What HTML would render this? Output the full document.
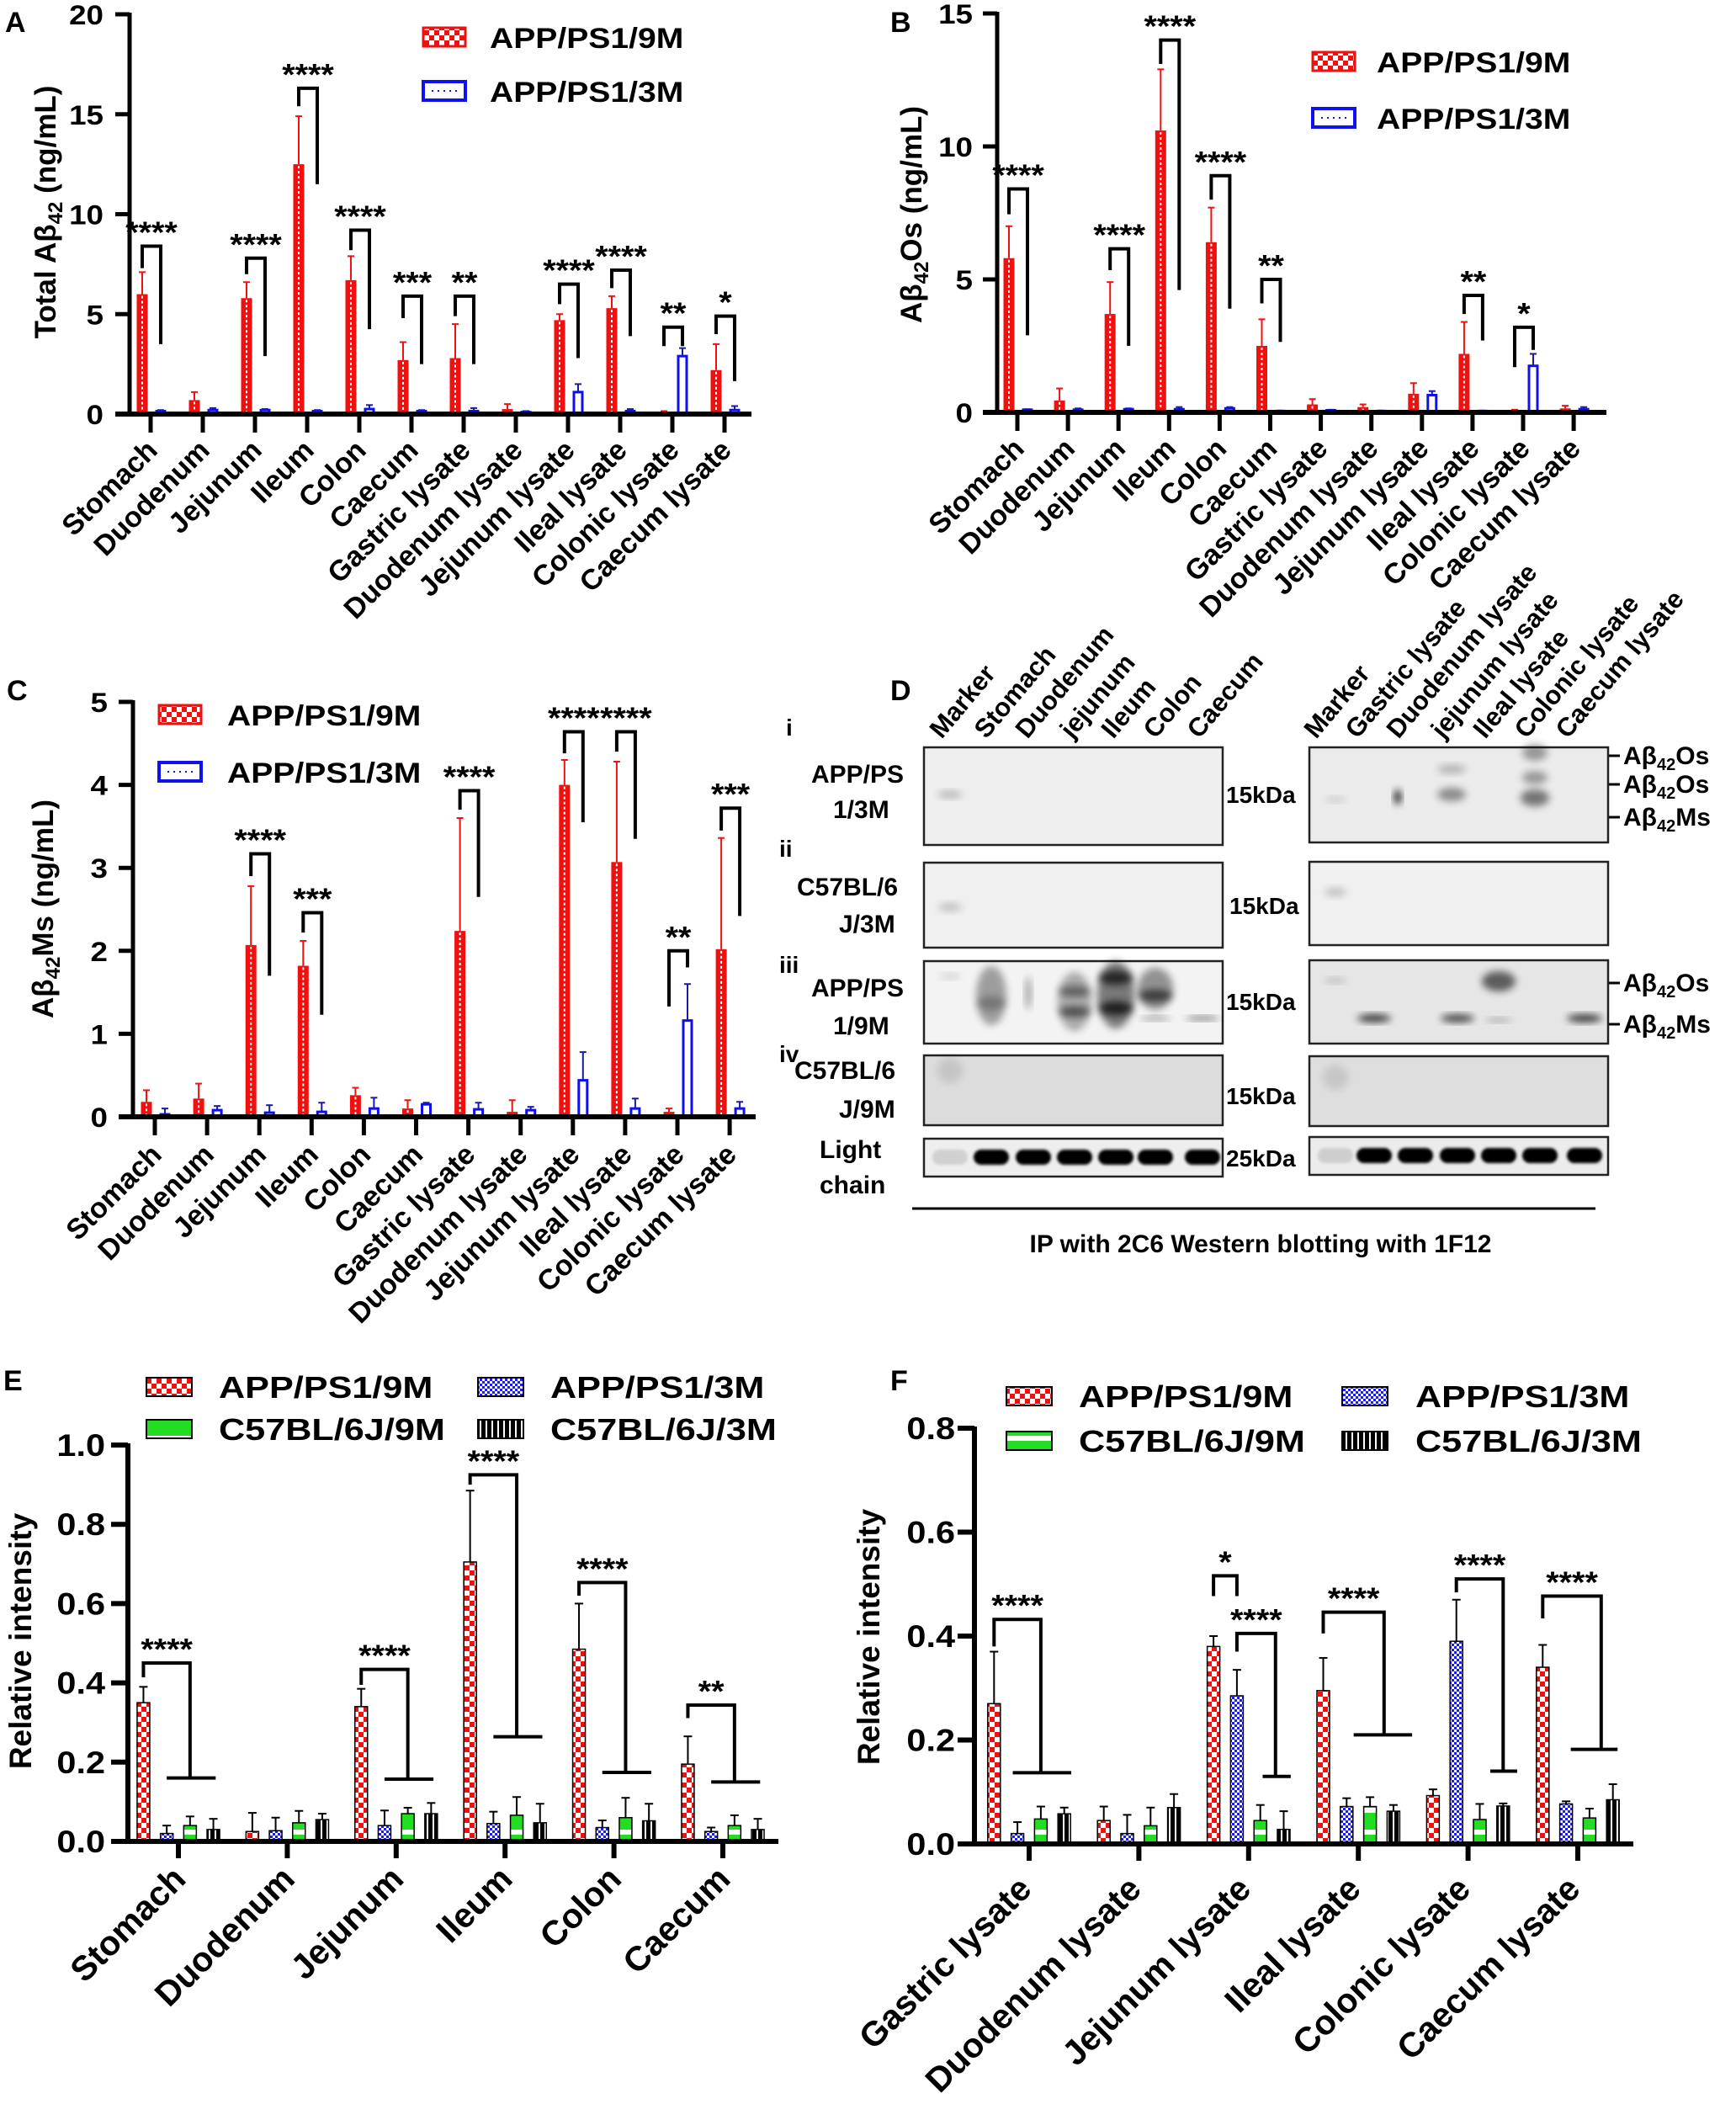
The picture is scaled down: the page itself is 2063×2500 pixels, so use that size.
<!DOCTYPE html>
<html><head><meta charset="utf-8">
<style>
html,body{margin:0;padding:0;background:#fff;}
svg{display:block;font-family:"Liberation Sans",Arial,sans-serif;font-weight:bold;}
</style></head>
<body>
<svg id="fig" xmlns="http://www.w3.org/2000/svg" width="2063" height="2500" viewBox="0 0 2063 2500">
<defs>
  <pattern id="pRed" width="12" height="12" patternUnits="userSpaceOnUse"><rect width="12" height="12" fill="#fff"/><rect width="6" height="6" fill="#f01010"/><rect x="6" y="6" width="6" height="6" fill="#f01010"/></pattern>
  <pattern id="pBlue" width="6" height="6" patternUnits="userSpaceOnUse"><rect width="6" height="6" fill="#fff"/><rect width="3" height="3" fill="#1a1aff"/><rect x="3" y="3" width="3" height="3" fill="#1a1aff"/></pattern>
  <pattern id="pGreen" width="14" height="26" patternUnits="userSpaceOnUse"><rect width="14" height="26" fill="#22dd22"/><rect y="16" width="14" height="6" fill="#fff"/></pattern>
  <pattern id="pBlack" width="7" height="10" patternUnits="userSpaceOnUse"><rect width="7" height="10" fill="#000"/><rect x="3" width="2" height="10" fill="#fff"/></pattern>
  <filter id="blur" x="-50%" y="-50%" width="200%" height="200%"><feGaussianBlur stdDeviation="4.5"/></filter>
  <filter id="blur2" x="-50%" y="-50%" width="200%" height="200%"><feGaussianBlur stdDeviation="1.5"/></filter>
</defs>

<text x="6" y="38" font-size="34">A</text>
<text x="1058" y="38" font-size="34">B</text>
<text x="8" y="832" font-size="34">C</text>
<text x="1058" y="832" font-size="34">D</text>
<text x="4" y="1652" font-size="34">E</text>
<text x="1058" y="1652" font-size="34">F</text>

<text transform="translate(66,252) rotate(-90)" text-anchor="middle" font-size="35">Total Aβ<tspan font-size="24" dy="8">42</tspan><tspan dy="-8"> (ng/mL)</tspan></text>
<text transform="translate(1095,255) rotate(-90)" text-anchor="middle" font-size="35">Aβ<tspan font-size="24" dy="8">42</tspan><tspan dy="-8">Os  (ng/mL)</tspan></text>
<text transform="translate(63,1080) rotate(-90)" text-anchor="middle" font-size="35">Aβ<tspan font-size="24" dy="8">42</tspan><tspan dy="-8">Ms (ng/mL)</tspan></text>
<text transform="translate(37,1950) rotate(-90)" text-anchor="middle" font-size="37">Relative intensity</text>
<text transform="translate(1045,1945) rotate(-90)" text-anchor="middle" font-size="37">Relative intensity</text>

<g font-size="30">
  <text x="934" y="874" font-size="28">i</text>
  <text x="964" y="930">APP/PS</text>
  <text x="990" y="972">1/3M</text>
  <text x="926" y="1018" font-size="28">ii</text>
  <text x="947" y="1064">C57BL/6</text>
  <text x="997" y="1108">J/3M</text>
  <text x="926" y="1156" font-size="28">iii</text>
  <text x="964" y="1184">APP/PS</text>
  <text x="990" y="1229">1/9M</text>
  <text x="926" y="1262" font-size="28">iv</text>
  <text x="944" y="1282">C57BL/6</text>
  <text x="997" y="1328">J/9M</text>
  <text x="974" y="1376">Light</text>
  <text x="974" y="1418">chain</text>
</g>
<g font-size="28">
  <text x="1457" y="954">15kDa</text>
  <text x="1461" y="1086">15kDa</text>
  <text x="1457" y="1200">15kDa</text>
  <text x="1457" y="1312">15kDa</text>
  <text x="1457" y="1386">25kDa</text>
</g>
<g font-size="30" stroke-width="3">
  <line x1="1911" y1="898" x2="1925" y2="898" stroke="#000"/><text x="1929" y="908">Aβ<tspan font-size="20" dy="7">42</tspan><tspan dy="-7">Os</tspan></text>
  <line x1="1911" y1="932" x2="1925" y2="932" stroke="#000"/><text x="1929" y="942">Aβ<tspan font-size="20" dy="7">42</tspan><tspan dy="-7">Os</tspan></text>
  <line x1="1911" y1="971" x2="1925" y2="971" stroke="#000"/><text x="1929" y="981">Aβ<tspan font-size="20" dy="7">42</tspan><tspan dy="-7">Ms</tspan></text>
  <line x1="1911" y1="1168" x2="1925" y2="1168" stroke="#000"/><text x="1929" y="1178">Aβ<tspan font-size="20" dy="7">42</tspan><tspan dy="-7">Os</tspan></text>
  <line x1="1911" y1="1217" x2="1925" y2="1217" stroke="#000"/><text x="1929" y="1227">Aβ<tspan font-size="20" dy="7">42</tspan><tspan dy="-7">Ms</tspan></text>
</g>
<line x1="1084" y1="1436" x2="1896" y2="1436" stroke="#000" stroke-width="3"/>
<text x="1498" y="1488" text-anchor="middle" font-size="30">IP with 2C6 Western blotting with 1F12</text>
</svg>

<script>
const catsAB = ["Stomach","Duodenum","Jejunum","Ileum","Colon","Caecum","Gastric lysate","Duodenum lysate","Jejunum lysate","Ileal lysate","Colonic lysate","Caecum lysate"];
const aRed = [6.0,0.7,5.8,12.5,6.7,2.7,2.8,0.25,4.7,5.3,0.1,2.2];
const aRedErr = [7.1,1.1,6.6,14.9,7.9,3.6,4.5,0.5,5.0,5.9,0.15,3.5];
const aBlue = [0.15,0.2,0.2,0.15,0.25,0.15,0.15,0.1,1.1,0.15,2.9,0.2];
const aBlueErr = [0.2,0.3,0.25,0.2,0.45,0.2,0.3,0.15,1.5,0.25,3.3,0.4];
const aTicks = [0,5,10,15,20];
const aSig = [[0,8.4,7.3,3.5,"****"],[2,7.8,7.0,2.9,"****"],[3,16.3,15.4,11.5,"****"],[4,9.2,8.2,4.25,"****"],[5,5.9,4.8,2.5,"***"],[6,5.9,4.9,2.5,"**"],[8,6.5,5.5,2.8,"****"],[9,7.2,6.3,3.9,"****"],[10,4.35,3.4,3.4,"**"],[11,4.9,4.0,1.65,"*"]];

const bRed = [5.8,0.45,3.7,10.6,6.4,2.5,0.3,0.2,0.7,2.2,0.08,0.15];
const bRedErr = [7.0,0.9,4.9,12.9,7.7,3.5,0.5,0.3,1.1,3.4,0.1,0.25];
const bBlue = [0.1,0.1,0.12,0.12,0.15,0.05,0.08,0.05,0.65,0.05,1.75,0.12];
const bBlueErr = [0.12,0.15,0.15,0.2,0.2,0.07,0.1,0.07,0.8,0.07,2.2,0.2];
const bTicks = [0,5,10,15];
const bSig = [[0,8.4,7.45,2.9,"****"],[2,6.15,5.35,2.5,"****"],[3,14.0,13.1,4.6,"****"],[4,8.9,8.0,3.9,"****"],[5,5.0,4.1,2.65,"**"],[9,4.4,3.7,2.7,"**"],[10,3.2,1.7,2.35,"*"]];

const cRed = [0.18,0.22,2.07,1.82,0.26,0.1,2.24,0.06,4.0,3.07,0.06,2.02];
const cRedErr = [0.32,0.4,2.78,2.12,0.35,0.2,3.6,0.2,4.3,4.28,0.1,3.36];
const cBlue = [0.03,0.08,0.05,0.06,0.1,0.15,0.09,0.08,0.44,0.1,1.16,0.1];
const cBlueErr = [0.1,0.13,0.14,0.17,0.23,0.17,0.17,0.12,0.78,0.22,1.6,0.18];
const cTicks = [0,1,2,3,4,5];
const cSig = [[2,3.17,2.9,1.7,"****"],[3,2.46,2.22,1.23,"***"],[6,3.93,3.7,2.65,"****"],[8,4.64,4.38,3.55,"****"],[9,4.64,4.4,3.35,"****"],[10,2.0,1.33,1.8,"**"],[11,3.72,3.45,2.42,"***"]];

const catsE = ["Stomach","Duodenum","Jejunum","Ileum","Colon","Caecum"];
const eApp9 = [0.35,0.025,0.34,0.705,0.485,0.195];
const eApp9Err = [0.39,0.072,0.385,0.885,0.6,0.265];
const eApp3 = [0.02,0.027,0.04,0.045,0.035,0.025];
const eApp3Err = [0.04,0.06,0.078,0.075,0.053,0.035];
const eC9 = [0.04,0.047,0.07,0.066,0.06,0.04];
const eC9Err = [0.063,0.077,0.085,0.112,0.11,0.066];
const eC3 = [0.03,0.055,0.07,0.047,0.052,0.03];
const eC3Err = [0.057,0.07,0.097,0.095,0.095,0.057];
const eTicks = [0,0.2,0.4,0.6,0.8,1.0];
const eSig = [[0,0,2,1,3.1,0.45,0.414,0.16,"****"],[2,0,2,1,3.1,0.434,0.395,0.157,"****"],[3,0,2,1,3.1,0.925,0.9,0.264,"****"],[4,0,2,1,3.1,0.653,0.62,0.174,"****"],[5,0,2,1,3.1,0.344,0.311,0.15,"**"]];

const catsF = ["Gastric lysate","Duodenum lysate","Jejunum lysate","Ileal lysate","Colonic lysate","Caecum lysate"];
const fApp9 = [0.27,0.045,0.38,0.295,0.093,0.34];
const fApp9Err = [0.37,0.072,0.4,0.358,0.105,0.383];
const fApp3 = [0.02,0.02,0.285,0.072,0.39,0.077];
const fApp3Err = [0.042,0.056,0.335,0.088,0.47,0.082];
const fC9 = [0.048,0.035,0.045,0.072,0.047,0.05];
const fC9Err = [0.072,0.07,0.075,0.09,0.077,0.068];
const fC3 = [0.058,0.07,0.028,0.063,0.073,0.085];
const fC3Err = [0.07,0.096,0.063,0.075,0.078,0.115];
const fTicks = [0,0.2,0.4,0.6,0.8];
const fSig = [[0,0,2,0.8,3.3,0.432,0.38,0.137,"****"],[2,1,2.65,2.1,3.3,0.405,0.37,0.13,"****"],[3,0,2.6,1.3,3.8,0.446,0.405,0.21,"****"],[4,1,3,2.45,3.6,0.51,0.484,0.14,"****"],[5,0,2.5,1.2,3.2,0.477,0.434,0.182,"****"]];
const fPair = [[2,0,1,0.516,0.477,"*"]];

const NS = 'http://www.w3.org/2000/svg';
const svg = document.getElementById('fig');
function mk(tag, attrs, parent){
  const e = document.createElementNS(NS, tag);
  for (const k in attrs) e.setAttribute(k, attrs[k]);
  (parent || svg).appendChild(e);
  return e;
}
function tx(parent, x, y, s, size, anchor, sx, rot){
  const t = mk('text', {transform:'translate('+x+','+y+')'+(rot?' rotate('+rot+')':'')+(sx?' scale('+sx+',1)':''), 'font-size':size, 'text-anchor':anchor||'start'}, parent);
  t.textContent = s;
  return t;
}
function axisFn(v0, y0, vTop, yTop){ return v => y0 + (v - v0) * (yTop - y0) / (vTop - v0); }

function twoSeries(cfg){
  const g = mk('g', {});
  
  
  const Y = axisFn(0, cfg.y0, cfg.vmax, cfg.yTop);
  const X = i => cfg.x0 + i * cfg.step;
  cfg.cats.forEach((c, i) => {
    const xr = X(i) + cfg.offR, xb = X(i) + cfg.offB, bw = cfg.bw;
    const er = mk('line', {x1:xr, x2:xr, y1:Y(cfg.red[i]), y2:Y(cfg.redErr[i]), stroke:'#f01010', 'stroke-width':2}, g);
    
    
    mk('line', {x1:xr-4, x2:xr+4, y1:Y(cfg.redErr[i]), y2:Y(cfg.redErr[i]), stroke:'#f01010', 'stroke-width':2}, g);
    const r = mk('rect', {x:xr-bw/2, y:Y(cfg.red[i]), width:bw, height:Math.max(0, cfg.y0 - Y(cfg.red[i])), fill:'#f01010'}, g);
    
    
    if (cfg.y0 - Y(cfg.red[i]) > 6) mk('line', {x1:xr, x2:xr, y1:Y(cfg.red[i])+2, y2:cfg.y0, stroke:'#fff', 'stroke-width':2, 'stroke-dasharray':'3 3'}, g);
    const eb = mk('line', {x1:xb, x2:xb, y1:Y(cfg.blue[i]), y2:Y(cfg.blueErr[i]), stroke:'#1a1aa0', 'stroke-width':2}, g);
    
    
    mk('line', {x1:xb-4, x2:xb+4, y1:Y(cfg.blueErr[i]), y2:Y(cfg.blueErr[i]), stroke:'#1a1aa0', 'stroke-width':2}, g);
    const b = mk('rect', {x:xb-bw/2+1.5, y:Y(cfg.blue[i]), width:bw-3, height:Math.max(0, cfg.y0 - Y(cfg.blue[i])), fill:'#fff', stroke:'#1010ee', 'stroke-width':3}, g);
    
    
    mk('line', {x1:X(i), x2:X(i), y1:cfg.y0, y2:cfg.y0+22, stroke:'#000', 'stroke-width':5}, g);
    const cl = tx(g, X(i)+10, cfg.y0+cfg.labDy, c, 34, 'end', 0, -45);
    
    
  });
  const ya = mk('line', {x1:cfg.axisX, x2:cfg.axisX, y1:cfg.yTop-2, y2:cfg.y0+2, stroke:'#000', 'stroke-width':5}, g);
  
  
  const xa = mk('line', {x1:cfg.axisX-17, x2:cfg.xEnd, y1:cfg.y0, y2:cfg.y0, stroke:'#000', 'stroke-width':6}, g);
  
  
  cfg.ticks.forEach(t => {
    mk('line', {x1:cfg.axisX-17, x2:cfg.axisX, y1:Y(t), y2:Y(t), stroke:'#000', 'stroke-width':5}, g);
    const tl = tx(g, cfg.tickLabX, Y(t)+12, String(t), 32, 'end', 1.15);
    
    
  });
  cfg.sig.forEach(s => {
    const xl = X(s[0]) + cfg.offR, xr = X(s[0]) + cfg.offB;
    const p = mk('polyline', {points: xl+','+Y(s[2])+' '+xl+','+Y(s[1])+' '+xr+','+Y(s[1])+' '+xr+','+Y(s[3]), fill:'none', stroke:'#000', 'stroke-width':4}, g);
    
    
    const st = tx(g, (xl+xr)/2, Y(s[1])-4, s[4], 36, 'middle', 1.1);
    
    
  });
  const lg = mk('g', {}, g);
  
  
  const L = cfg.leg;
  mk('rect', {x:L.x, y:L.y1-11, width:50, height:22, fill:'url(#pRed)', stroke:'#f01010', 'stroke-width':3}, lg);
  tx(lg, L.tx, L.y1+13, 'APP/PS1/9M', 34, 'start', 1.15);
  mk('rect', {x:L.x, y:L.y2-11, width:50, height:22, fill:'#fff', stroke:'#1010ee', 'stroke-width':4}, lg);
  mk('line', {x1:L.x+10, x2:L.x+42, y1:L.y2, y2:L.y2, stroke:'#1010ee', 'stroke-width':2, 'stroke-dasharray':'2 5'}, lg);
  tx(lg, L.tx, L.y2+13, 'APP/PS1/3M', 34, 'start', 1.15);
}

twoSeries({name:'chart-a-total-abeta42', cats:catsAB, red:aRed, redErr:aRedErr, blue:aBlue, blueErr:aBlueErr, ticks:aTicks, sig:aSig,
  vmax:20, y0:492, yTop:17, axisX:154, x0:179, step:62, offR:-10, offB:12, bw:13, xEnd:893, tickLabX:123, labDy:45,
  leg:{x:503, tx:582, y1:44, y2:108}});
twoSeries({name:'chart-b-abeta42-oligomers', cats:catsAB, red:bRed, redErr:bRedErr, blue:bBlue, blueErr:bBlueErr, ticks:bTicks, sig:bSig,
  vmax:15, y0:490, yTop:16, axisX:1185, x0:1209, step:60.1, offR:-10, offB:12, bw:13, xEnd:1909, tickLabX:1156, labDy:45,
  leg:{x:1560, tx:1636, y1:73, y2:140}});
twoSeries({name:'chart-c-abeta42-monomers', cats:catsAB, red:cRed, redErr:cRedErr, blue:cBlue, blueErr:cBlueErr, ticks:cTicks, sig:cSig,
  vmax:5, y0:1327, yTop:834, axisX:158, x0:184, step:62.1, offR:-10, offB:12, bw:13, xEnd:898, tickLabX:128, labDy:47,
  leg:{x:189, tx:270, y1:849, y2:917}});

function fourSeries(cfg){
  const g = mk('g', {});
  
  
  const Y = axisFn(0, cfg.y0, cfg.vmax, cfg.yTop);
  const X = i => cfg.x0 + i * cfg.step;
  const BX = (i, k) => X(i) + (k - 1.5) * cfg.sp;
  const fills = ['url(#pRed)','url(#pBlue)','url(#pGreen)','url(#pBlack)'];
  const names = ['app-ps1-9m','app-ps1-3m','c57-9m','c57-3m'];
  cfg.cats.forEach((c, i) => {
    cfg.series.forEach((ser, k) => {
      const x = BX(i, k), v = ser[0][i], e = ser[1][i];
      mk('line', {x1:x, x2:x, y1:Y(v), y2:Y(e), stroke:'#000', 'stroke-width':2}, g);
      mk('line', {x1:x-5, x2:x+5, y1:Y(e), y2:Y(e), stroke:'#000', 'stroke-width':2}, g);
      const r = mk('rect', {x:x-cfg.bw/2, y:Y(v), width:cfg.bw, height:Math.max(0, cfg.y0 - Y(v)), fill:fills[k], stroke:'#000', 'stroke-width':1.5}, g);
      
      
    });
    mk('line', {x1:X(i), x2:X(i), y1:cfg.y0, y2:cfg.y0+20, stroke:'#000', 'stroke-width':6}, g);
    const cl = tx(g, X(i)+cfg.labDx, cfg.y0+cfg.labDy, c, 41, 'end', 0, -45);
    
    
  });
  const ya = mk('line', {x1:cfg.axisX, x2:cfg.axisX, y1:cfg.yTop-2, y2:cfg.y0+2, stroke:'#000', 'stroke-width':6}, g);
  
  
  const xa = mk('line', {x1:cfg.axisX-20, x2:cfg.xEnd, y1:cfg.y0, y2:cfg.y0, stroke:'#000', 'stroke-width':6}, g);
  
  
  cfg.ticks.forEach(t => {
    mk('line', {x1:cfg.axisX-20, x2:cfg.axisX, y1:Y(t), y2:Y(t), stroke:'#000', 'stroke-width':6}, g);
    const tl = tx(g, cfg.tickLabX, Y(t)+13, t.toFixed(1), 37, 'end', 1.12);
    
    
  });
  cfg.sig.forEach(s => {
    const xl = BX(s[0], s[1]), xv = BX(s[0], s[2]);
    const p = mk('polyline', {points: xl+','+Y(s[6])+' '+xl+','+Y(s[5])+' '+xv+','+Y(s[5])+' '+xv+','+Y(s[7]), fill:'none', stroke:'#000', 'stroke-width':4}, g);
    
    
    mk('line', {x1:BX(s[0], s[3]), x2:BX(s[0], s[4]), y1:Y(s[7]), y2:Y(s[7]), stroke:'#000', 'stroke-width':4}, g);
    const st = tx(g, (xl+xv)/2, Y(s[5])-4, s[8], 36, 'middle', 1.1);
    
    
  });
  (cfg.pair || []).forEach(s => {
    const xa2 = BX(s[0], s[1]), xb2 = BX(s[0], s[2]);
    const p = mk('polyline', {points: xa2+','+Y(s[4])+' '+xa2+','+Y(s[3])+' '+xb2+','+Y(s[3])+' '+xb2+','+Y(s[4]), fill:'none', stroke:'#000', 'stroke-width':4}, g);
    
    
    const st = tx(g, (xa2+xb2)/2, Y(s[3])-4, s[5], 36, 'middle', 1.1);
    
    
  });
  const lg = mk('g', {}, g);
  
  
  const L = cfg.leg;
  const labs = ['APP/PS1/9M','APP/PS1/3M','C57BL/6J/9M','C57BL/6J/3M'];
  [[0,0],[1,1],[2,0],[3,1]].forEach(([k, col]) => {
    const row = k < 2 ? 0 : 1;
    const yy = row ? L.y2 : L.y1;
    const sx = col ? L.x2 : L.x1;
    mk('rect', {x:sx, y:yy-11, width:54, height:22, fill:fills[k], stroke:'#000', 'stroke-width':2}, lg);
    tx(lg, sx + (col ? L.t2 - L.x2 : L.t1 - L.x1), yy+13, labs[k], 36, 'start', 1.2);
  });
}

fourSeries({name:'chart-e-relative-intensity-tissue', cats:catsE, series:[[eApp9,eApp9Err],[eApp3,eApp3Err],[eC9,eC9Err],[eC3,eC3Err]],
  ticks:eTicks, sig:eSig, vmax:1.0, y0:2188, yTop:1717, axisX:152, x0:212, step:129.4, sp:27.7, bw:15, xEnd:925, tickLabX:125,
  labDx:11, labDy:47, leg:{x1:174, t1:260, x2:568, t2:654, y1:1648, y2:1698}});
fourSeries({name:'chart-f-relative-intensity-lysate', cats:catsF, series:[[fApp9,fApp9Err],[fApp3,fApp3Err],[fC9,fC9Err],[fC3,fC3Err]],
  ticks:fTicks, sig:fSig, pair:fPair, vmax:0.8, y0:2191, yTop:1697, axisX:1158, x0:1223, step:130.4, sp:27.8, bw:15, xEnd:1941, tickLabX:1135,
  labDx:5, labDy:56, leg:{x1:1196, t1:1282, x2:1595, t2:1682, y1:1659, y2:1712}});

const leftLanes = ["Marker","Stomach","Duodenum","jejunum","Ileum","Colon","Caecum"];
const rightLanes = ["Marker","Gastric lysate","Duodenum lysate","jejunum lysate","Ileal lysate","Colonic lysate","Caecum lysate"];
const blot = mk('g', {});


const lLaneX = [1129,1178,1228,1277,1326,1373,1429];
const rLaneX = [1587,1633,1682,1732,1781,1830,1883];
const lHdrX = [1119,1172,1221,1274,1323,1373,1425];
const rHdrX = [1564,1613,1662,1715,1765,1814,1863];
leftLanes.forEach((n, i) => {
  const t = tx(blot, lHdrX[i], 879, n, 31, 'start', 0, -50);
  
  
});
rightLanes.forEach((n, i) => {
  const t = tx(blot, rHdrX[i], 879, n, 31, 'start', 0, -50);
  
  
});
const boxes = [
  [1098,888,1453,1004,'#efefef'],[1098,1025,1453,1126,'#f0f0f0'],[1098,1142,1453,1240,'#f3f3f3'],[1098,1254,1453,1337,'#dcdcdc'],[1098,1353,1453,1398,'#eeeeee'],
  [1556,888,1911,1001,'#ebebeb'],[1556,1024,1911,1123,'#f0f0f0'],[1556,1141,1911,1240,'#e6e6e6'],[1556,1255,1911,1338,'#dedede'],[1556,1351,1911,1396,'#ececec']
];
boxes.forEach(b => {
  const r = mk('rect', {x:b[0], y:b[1], width:b[2]-b[0], height:b[3]-b[1], fill:b[4], stroke:'#222', 'stroke-width':2.5}, blot);
  
  
});
const bands = [
  [1129,944,30,8,.25],[1129,1078,28,10,.2],[1129,1272,30,30,.1],[1129,1160,26,6,.15],
  [1178,1183,36,70,.35],[1178,1192,34,16,.25],[1222,1180,7,40,.35],
  [1277,1190,40,70,.3],[1277,1178,38,12,.45],[1277,1202,38,12,.55],
  [1326,1182,44,80,.5],[1326,1162,40,16,.7],[1326,1198,40,16,.75],
  [1373,1175,42,50,.4],[1373,1183,40,14,.6],[1373,1210,36,5,.4],[1429,1210,40,5,.55],
  [1587,1165,26,6,.2],[1781,1166,40,24,.6],[1633,1210,40,9,.8],[1732,1210,40,9,.75],[1781,1212,30,5,.3],[1883,1210,42,9,.8],
  [1661,947,8,18,.9],[1725,914,34,10,.25],[1725,944,34,16,.4],[1824,894,30,20,.35],[1824,924,30,16,.35],[1824,948,34,20,.5],[1587,950,25,6,.15],
  [1587,1060,26,10,.2],[1587,1280,30,30,.1]
];
bands.forEach(b => {
  const e = mk('ellipse', {cx:b[0], cy:b[1], rx:b[2]/2, ry:b[3]/2, fill:'#000', opacity:b[4], filter:'url(#blur)'}, blot);
  
  
});
lLaneX.concat(rLaneX).forEach((x, i) => {
  const marker = (i === 0 || i === 7);
  const e = mk('rect', {x:x-21, y:(i<7?1366:1364), width:42, height:18, rx:9, fill:'#000', opacity:marker?0.12:1, filter:'url(#blur2)'}, blot);
  
  
});
</script>
</body></html>
